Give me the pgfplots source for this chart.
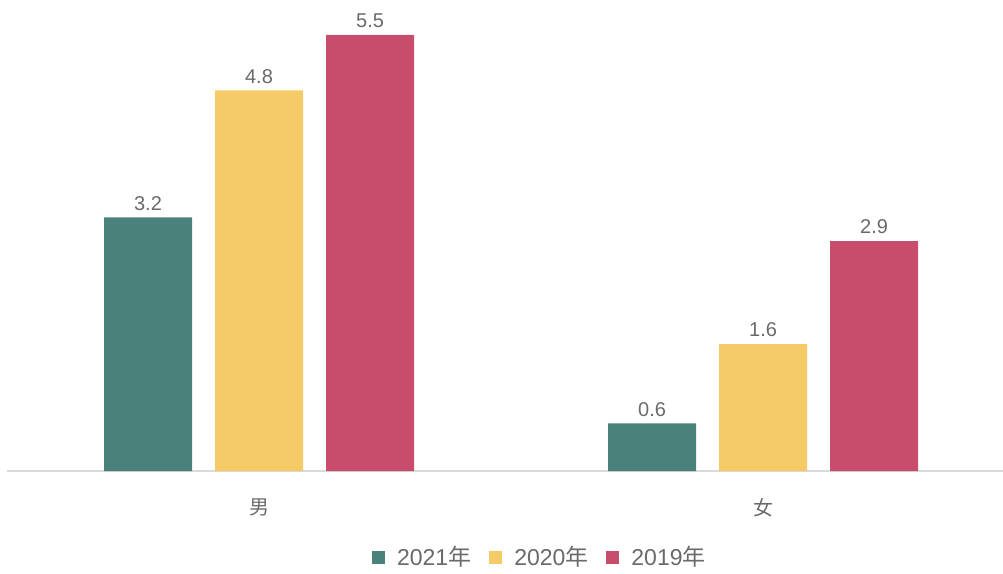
\documentclass[border=0pt]{standalone}
\usepackage{pgfplots}
\pgfplotsset{compat=1.18}
\usepackage{fontspec}
\setmainfont{Liberation Sans}
\newfontfamily\cjk{Noto Sans CJK SC}
\definecolor{cgreen}{HTML}{48827A}
\definecolor{cyellow}{HTML}{F5CB67}
\definecolor{cred}{HTML}{C84C6C}
\definecolor{ctext}{HTML}{6A6A6A}
\definecolor{caxis}{HTML}{D9D9D9}
\begin{document}
\begin{tikzpicture}
\begin{axis}[
  scale only axis,
  width=498pt, height=235.5pt,
  xmin=-0.5, xmax=1.476,
  ymin=0, ymax=5.94,
  ybar, bar width=44pt,
  axis x line*=bottom, axis y line=none,
  x axis line style={draw=caxis, line width=1pt, -},
  xtick={0,1}, xticklabels={{\cjk 男},{\cjk 女}},
  xtick style={draw=none},
  xticklabel style={font=\fontsize{10}{12}\selectfont, text=ctext, yshift=-6pt},
  nodes near coords,
  nodes near coords style={font=\fontsize{10}{12}\selectfont, text=ctext, yshift=0pt},
  /pgf/number format/assume math mode=true,
  /pgf/number format/fixed, /pgf/number format/fixed zerofill, /pgf/number format/precision=1,
  legend columns=3,
  legend style={at={(0.536,0)}, anchor=center, yshift=-43pt, draw=none,
    font=\fontsize{11.5}{13}\selectfont, text=ctext, inner sep=0pt,
    /tikz/every odd column/.append style={column sep=4pt},
    /tikz/every even column/.append style={column sep=7pt}},
  legend image code/.code={\fill[#1] (0pt,-3.25pt) rectangle (6.5pt,3.25pt);},
]
\addplot[fill=cgreen, draw=none, bar shift=-55.5pt] coordinates {(0,3.2) (1,0.6)};
\addplot[fill=cyellow, draw=none, bar shift=0pt] coordinates {(0,4.8) (1,1.6)};
\addplot[fill=cred, draw=none, bar shift=55.5pt] coordinates {(0,5.5) (1,2.9)};
\legend{2021{\cjk 年},2020{\cjk 年},2019{\cjk 年}}
\end{axis}
\pgfresetboundingbox
\path ([xshift=-3.5pt,yshift=-51pt]current axis.south west) rectangle (current axis.north east);
\end{tikzpicture}
\end{document}
